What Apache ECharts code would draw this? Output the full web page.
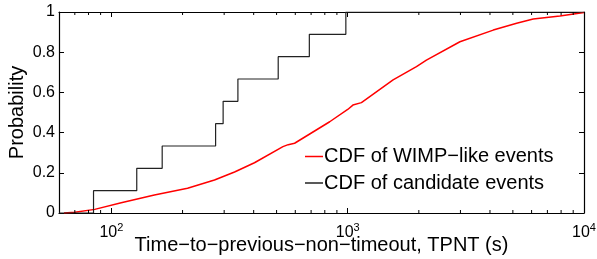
<!DOCTYPE html>
<html>
<head>
<meta charset="utf-8">
<script src="https://cdn.jsdelivr.net/npm/echarts@6/dist/echarts.min.js"></script>
<style>
html, body { margin: 0; padding: 0; background: #fff; }
#chart { width: 597px; height: 259px; }
</style>
</head>
<body>
<div id="chart"></div>
<script>
// candidate events: times (s) where the CDF steps up by 1/9
const candidateTimes = [84, 128, 164, 276, 297, 343, 508, 688, 982];
const candidateProb = [1/9, 2/9, 3/9, 4/9, 5/9, 6/9, 7/9, 8/9, 1];

// WIMP-like events CDF
const wimpTimes = [63, 70, 85, 110, 152, 210, 273, 332, 403, 532, 560, 596, 736, 839, 1000, 1052, 1143, 1556, 1954, 2153, 2985, 4130, 5188, 6095, 7906, 10000];
const wimpProb = [0, 0.004, 0.018, 0.051, 0.090, 0.123, 0.164, 0.204, 0.25, 0.33, 0.34, 0.347, 0.413, 0.454, 0.515, 0.537, 0.549, 0.662, 0.728, 0.761, 0.852, 0.910, 0.944, 0.965, 0.98, 0.997];

const xMin = 60;
const xMax = 10000;
const minorTicks = [70, 80, 90, 200, 300, 400, 500, 600, 700, 800, 900, 2000, 3000, 4000, 5000, 6000, 7000, 8000, 9000];
const yTickLabels = ['0', '0.2', '0.4', '0.6', '0.8', '1'];

const font = 'Liberation Sans, Arial, Helvetica, sans-serif';

const candidateData = [[xMin, 0]];
candidateTimes.forEach((t, i) => candidateData.push([t, candidateProb[i]]));
candidateData.push([xMax, 1]);

const wimpData = wimpTimes.map((t, i) => [t, wimpProb[i]]);

function xLabel(v) {
  const e = Math.round(Math.log10(v));
  if (Math.abs(v - Math.pow(10, e)) > 1e-6 * v) return '';
  return '{b|10}{s|' + e + '}';
}

const chart = echarts.init(document.getElementById('chart'));

const xBase = {
  type: 'log',
  logBase: 10,
  min: xMin,
  max: xMax,
  axisLine: { show: true, onZero: false, lineStyle: { color: '#000', width: 1.2 } },
  axisTick: { show: true, inside: true, length: 5, lineStyle: { color: '#000', width: 1 } },
  splitLine: { show: false },
  minorTick: { show: false }
};
const yBase = {
  type: 'value',
  min: 0,
  max: 1,
  interval: 0.2,
  axisLine: { show: true, onZero: false, lineStyle: { color: '#000', width: 1.2 } },
  axisTick: { show: true, inside: true, length: 5, lineStyle: { color: '#000', width: 1 } },
  splitLine: { show: false }
};

chart.setOption({
  animation: false,
  backgroundColor: '#fff',
  grid: { left: 59, right: 13, top: 12, bottom: 46, containLabel: false, outerBoundsMode: 'none' },
  xAxis: [
    Object.assign({}, xBase, {
      position: 'bottom',
      name: 'Time\u2212to\u2212previous\u2212non\u2212timeout, TPNT (s)',
      nameLocation: 'middle',
      nameGap: 22,
      nameMoveOverlap: false,
      nameTextStyle: { fontSize: 20, color: '#000', fontFamily: font },
      axisLabel: {
        show: true,
        margin: 9,
        formatter: xLabel,
        rich: {
          b: { fontSize: 16, color: '#000', fontFamily: font, lineHeight: 16, padding: [5, 0, 0, 0] },
          s: { fontSize: 11, color: '#000', fontFamily: font, lineHeight: 11, verticalAlign: 'top' }
        }
      }
    }),
    Object.assign({}, xBase, { position: 'top', axisLabel: { show: false } })
  ],
  yAxis: [
    Object.assign({}, yBase, {
      position: 'left',
      name: 'Probability',
      nameLocation: 'middle',
      nameGap: 32,
      nameMoveOverlap: false,
      nameTextStyle: { fontSize: 20, color: '#000', fontFamily: font },
      axisLabel: {
        margin: 4,
        fontSize: 16,
        color: '#000',
        fontFamily: font,
        formatter: v => yTickLabels[Math.round(v / 0.2)]
      }
    }),
    Object.assign({}, yBase, { position: 'right', axisLabel: { show: false } })
  ],
  legend: {
    orient: 'vertical',
    left: 300,
    top: 141.5,
    itemWidth: 18,
    itemHeight: 1.5,
    itemGap: 6.5,
    icon: 'rect',
    data: [
      { name: 'CDF of WIMP\u2212like events', itemStyle: { color: '#ff0000' } },
      { name: 'CDF of candidate events', itemStyle: { color: '#222' } }
    ],
    textStyle: { fontSize: 20, lineHeight: 20, color: '#000', fontFamily: font, padding: [0, 0, 0, -4] }
  },
  series: [
    {
      name: 'CDF of WIMP\u2212like events',
      type: 'line',
      data: wimpData,
      showSymbol: false,
      symbol: 'none',
      lineStyle: { color: '#ff0000', width: 1.5 },
      itemStyle: { color: '#ff0000' },
      z: 3
    },
    {
      name: 'CDF of candidate events',
      type: 'line',
      step: 'end',
      data: candidateData,
      showSymbol: false,
      symbol: 'none',
      lineStyle: { color: '#222', width: 1.2 },
      itemStyle: { color: '#222' },
      z: 4
    },
    {
      // minor log ticks on bottom and top edges (bound to the top/right axes)
      name: 'minorTicks',
      type: 'custom',
      xAxisIndex: 1,
      yAxisIndex: 1,
      silent: true,
      clip: false,
      z: 5,
      data: minorTicks.map(v => [v, 0]),
      renderItem: (params, api) => {
        const v = api.value(0);
        const b = api.coord([v, 0]);
        const t = api.coord([v, 1]);
        return {
          type: 'group',
          children: [
            { type: 'line', shape: { x1: b[0], y1: b[1], x2: b[0], y2: b[1] - 3 }, style: { stroke: '#000', lineWidth: 1 } },
            { type: 'line', shape: { x1: t[0], y1: t[1], x2: t[0], y2: t[1] + 3 }, style: { stroke: '#000', lineWidth: 1 } }
          ]
        };
      }
    }
  ]
});
</script>
</body>
</html>
